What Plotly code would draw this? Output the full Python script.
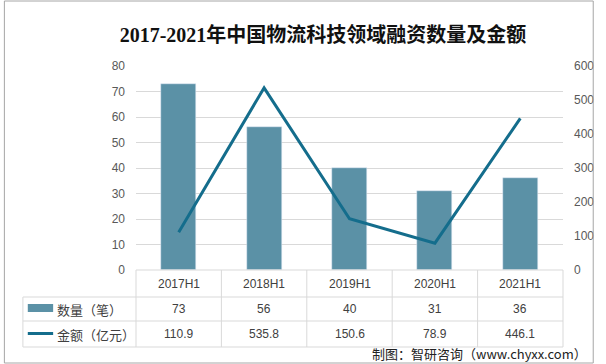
import plotly.graph_objects as go

categories = ["2017H1", "2018H1", "2019H1", "2020H1", "2021H1"]
counts = [73, 56, 40, 31, 36]
amounts = [110.9, 535.8, 150.6, 78.9, 446.1]
amount_labels = ["110.9", "535.8", "150.6", "78.9", "446.1"]
series_names = ["数量（笔）", "金额（亿元）"]
left_ticks = [0, 10, 20, 30, 40, 50, 60, 70, 80]
right_ticks = [0, 100, 200, 300, 400, 500, 600]

W, H = 606, 364
L, R, T, B = 136, 574, 66, 270
BAR_COLOR = "#5b91a6"
LINE_COLOR = "#146d8c"
GRID = "#d9d9d9"
TXT = "#404040"
SANS = "Noto Sans CJK SC, Liberation Sans, sans-serif"
LAT = "Liberation Sans, Noto Sans CJK SC, sans-serif"

def px(x):
    return (x - L) / (R - L)

def py(y):
    return (B - y) / (B - T)

xs = list(range(len(categories)))

fig = go.Figure()
fig.add_trace(go.Bar(x=xs, y=counts, marker_color=BAR_COLOR, width=0.41,
                     name=series_names[0], showlegend=False))
fig.add_trace(go.Scatter(x=xs, y=amounts, yaxis="y2", mode="lines",
                         line=dict(color=LINE_COLOR, width=3),
                         name=series_names[1], showlegend=False))

shapes = []
ann = []
line_style = dict(color=GRID, width=1)
for yy in [B, 297, 321, 347]:
    x0 = L if yy == B else 20
    shapes.append(dict(type="line", xref="paper", yref="paper", x0=px(x0), x1=px(R),
                       y0=py(yy), y1=py(yy), line=line_style))
n = len(categories)
for i in range(n + 1):
    xx = L + (R - L) * i / n
    shapes.append(dict(type="line", xref="paper", yref="paper", x0=px(xx), x1=px(xx),
                       y0=py(B), y1=py(347), line=line_style))
shapes.append(dict(type="line", xref="paper", yref="paper", x0=px(20), x1=px(20),
                   y0=py(297), y1=py(347), line=line_style))
shapes.append(dict(type="rect", xref="paper", yref="paper", x0=px(25), x1=px(51),
                   y0=py(312), y1=py(304), fillcolor=BAR_COLOR, line=dict(width=0)))
shapes.append(dict(type="line", xref="paper", yref="paper", x0=px(25), x1=px(51),
                   y0=py(333.5), y1=py(333.5), line=dict(color=LINE_COLOR, width=3)))

font_t = dict(family=LAT, size=12, color=TXT)
for i, c in enumerate(categories):
    ann.append(dict(x=i, y=py(284), xref="x", yref="paper", text=c, showarrow=False,
                    font=font_t, xanchor="center", yanchor="middle"))
    ann.append(dict(x=i, y=py(309), xref="x", yref="paper", text=str(counts[i]),
                    showarrow=False, font=font_t, xanchor="center", yanchor="middle"))
    ann.append(dict(x=i, y=py(334), xref="x", yref="paper", text=amount_labels[i],
                    showarrow=False, font=font_t, xanchor="center", yanchor="middle"))
ann.append(dict(x=px(53), y=py(309), xref="paper", yref="paper", text=series_names[0],
                showarrow=False, font=dict(family=SANS, size=13, color=TXT),
                xanchor="left", yanchor="middle"))
ann.append(dict(x=px(53), y=py(334), xref="paper", yref="paper", text=series_names[1],
                showarrow=False, font=dict(family=SANS, size=13, color=TXT),
                xanchor="left", yanchor="middle"))
ann.append(dict(x=px(601), y=py(353), xref="paper", yref="paper",
                text="制图：智研咨询（www.chyxx.com）", showarrow=False,
                font=dict(family=SANS, size=13, color="#222222"),
                xanchor="right", yanchor="middle"))

shapes.append(dict(type="rect", xref="paper", yref="paper", x0=px(1), x1=px(605),
                   y0=py(1), y1=py(363), line=dict(color="#a6a6a6", width=1)))

fig.update_layout(
    width=W, height=H,
    margin=dict(l=L, r=W - R, t=T, b=H - B, pad=0),
    paper_bgcolor="white", plot_bgcolor="white",
    title=dict(text="<b>2017-2021年中国物流科技领域融资数量及金额</b>", x=323 / W, xanchor="center",
               y=1 - 35 / H, yanchor="middle",
               font=dict(family="Liberation Serif, Noto Sans CJK SC, serif", size=20, color="#111111")),
    xaxis=dict(range=[-0.5, n - 0.5], showticklabels=False, showgrid=False, zeroline=False,
               showline=False, fixedrange=True),
    yaxis=dict(range=[0, 80], tickvals=left_ticks, showgrid=True, gridcolor=GRID, gridwidth=1,
               zeroline=False, showline=False, ticks="", ticklabelstandoff=10,
               tickfont=dict(family=LAT, size=12, color="#595959")),
    yaxis2=dict(range=[0, 600], tickvals=right_ticks, overlaying="y", side="right",
                showgrid=False, zeroline=False, showline=False, ticks="", ticklabelstandoff=10,
                tickfont=dict(family=LAT, size=12, color="#595959")),
    shapes=shapes, annotations=ann, bargap=0,
)

fig.write_html("out.html", config={"displayModeBar": False},
               post_script="document.body.style.margin='0';")
